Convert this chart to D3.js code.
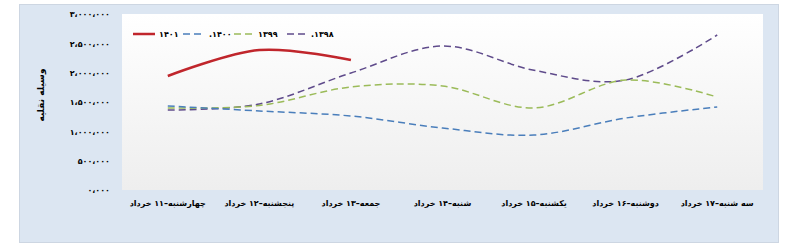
<!DOCTYPE html>
<html>
<head>
<meta charset="utf-8">
<script src="https://cdn.jsdelivr.net/npm/d3@7/dist/d3.min.js"></script>
<style>
  body { margin: 0; background: #fff; }
  text { font-family: "DejaVu Sans", sans-serif; font-weight: bold; fill: #000; }
</style>
</head>
<body>
<script>
// categories (days of Khordad)
var days = ["چهارشنبه–۱۱ خرداد", "پنجشنبه–۱۲ خرداد", "جمعه–۱۳ خرداد", "شنبه–۱۴ خرداد",
            "یکشنبه–۱۵ خرداد", "دوشنبه–۱۶ خرداد", "سه شنبه–۱۷ خرداد"];

// series values (vehicles)
var y1401 = [1943000, 2386000, 2216000];
var y1400 = [1432000, 1347000, 1261000, 1057000, 937000, 1227000, 1415000];
var y1399 = [1398000, 1440000, 1756000, 1773000, 1398000, 1875000, 1585000];
var y1398 = [1364000, 1466000, 1994000, 2454000, 2040000, 1875000, 2642000];

var seriesNames = ["۱۴۰۱", ".۱۴۰۰", "۱۳۹۹", ".۱۳۹۸"];

// y tick values and labels
var yTicks = [0, 500000, 1000000, 1500000, 2000000, 2500000, 3000000];
var yTickLabels = ["۰،۰۰۰", "۵۰۰،۰۰۰", "۱،۰۰۰،۰۰۰", "۱،۵۰۰،۰۰۰", "۲،۰۰۰،۰۰۰", "۲،۵۰۰،۰۰۰", "۳،۰۰۰،۰۰۰"];

var yTitle = "وسیله نقلیه";

var W = 791, H = 249;
var plot = {left: 122, right: 763, top: 14, bottom: 190};

var svg = d3.select("body").append("svg")
    .attr("width", W)
    .attr("height", H);

var defs = svg.append("defs");
var grad = defs.append("linearGradient")
    .attr("id", "plotbg")
    .attr("x1", 0).attr("y1", 0).attr("x2", 0).attr("y2", 1);
grad.append("stop").attr("offset", "0%").attr("stop-color", "#ffffff");
grad.append("stop").attr("offset", "100%").attr("stop-color", "#eeeeee");

// outer panel
svg.append("rect")
    .attr("x", 19.5).attr("y", 4.5)
    .attr("width", 759).attr("height", 238)
    .attr("fill", "#dce6f2")
    .attr("stroke", "#cdd6e2");

// plot area
svg.append("rect")
    .attr("x", plot.left).attr("y", plot.top)
    .attr("width", plot.right - plot.left).attr("height", plot.bottom - plot.top)
    .attr("fill", "url(#plotbg)");

// scales
var x = d3.scaleBand().domain(days).range([plot.left, plot.right]);
var y = d3.scaleLinear().domain([0, 3000000]).range([plot.bottom, plot.top]);

// y axis
var yAxis = svg.append("g")
    .attr("transform", "translate(" + plot.left + ",0)")
    .call(d3.axisLeft(y).tickValues(yTicks)
        .tickSize(0).tickPadding(12)
        .tickFormat(function(d, i) { return yTickLabels[i]; }));
yAxis.select(".domain").remove();
yAxis.selectAll("text")
    .style("font-size", "8px")
    .attr("dy", "0.35em");

// x axis
var xAxis = svg.append("g")
    .attr("transform", "translate(0," + plot.bottom + ")")
    .call(d3.axisBottom(x).tickSize(0).tickPadding(10));
xAxis.select(".domain").remove();
xAxis.selectAll("text")
    .style("font-size", "8px")
    .attr("direction", "rtl")
    .attr("text-anchor", "middle");

// y title
svg.append("text")
    .attr("transform", "translate(44,95) rotate(-90)")
    .attr("text-anchor", "middle")
    .style("font-size", "9px")
    .text(yTitle);

// lines
var line = d3.line()
    .x(function(d, i) { return x(days[i]) + x.bandwidth() / 2; })
    .y(function(d) { return y(d); })
    .curve(d3.curveCardinal.tension(0));

var series = [
  {values: y1398, color: "#5f4b8b", dash: "7,4", width: 1.5},
  {values: y1399, color: "#9bbb59", dash: "7,4", width: 1.5},
  {values: y1400, color: "#4a7ebb", dash: "7,4", width: 1.5},
  {values: y1401, color: "#c0262c", dash: null, width: 2.5}
];

series.forEach(function(s) {
  svg.append("path")
      .datum(s.values)
      .attr("fill", "none")
      .attr("stroke", s.color)
      .attr("stroke-width", s.width)
      .attr("stroke-dasharray", s.dash)
      .attr("d", line);
});

// legend
var legendItems = [
  {name: seriesNames[0], color: "#c0262c", dash: null, width: 2.5, x: 133, len: 22},
  {name: seriesNames[1], color: "#4a7ebb", dash: "7,4", width: 1.5, x: 183, len: 22},
  {name: seriesNames[2], color: "#9bbb59", dash: "7,4", width: 1.5, x: 234, len: 20},
  {name: seriesNames[3], color: "#5f4b8b", dash: "7,4", width: 1.5, x: 287, len: 20}
];
var legend = svg.selectAll(".legend")
    .data(legendItems)
    .enter().append("g")
    .attr("class", "legend")
    .attr("transform", function(d) { return "translate(" + d.x + ",34)"; });
legend.append("line")
    .attr("x1", 0).attr("x2", function(d) { return d.len; })
    .attr("stroke", function(d) { return d.color; })
    .attr("stroke-width", function(d) { return d.width; })
    .attr("stroke-dasharray", function(d) { return d.dash; });
legend.append("text")
    .attr("x", function(d) { return d.len + 4; })
    .attr("dy", "0.35em")
    .style("font-size", "8px")
    .text(function(d) { return d.name; });
</script>
</body>
</html>
